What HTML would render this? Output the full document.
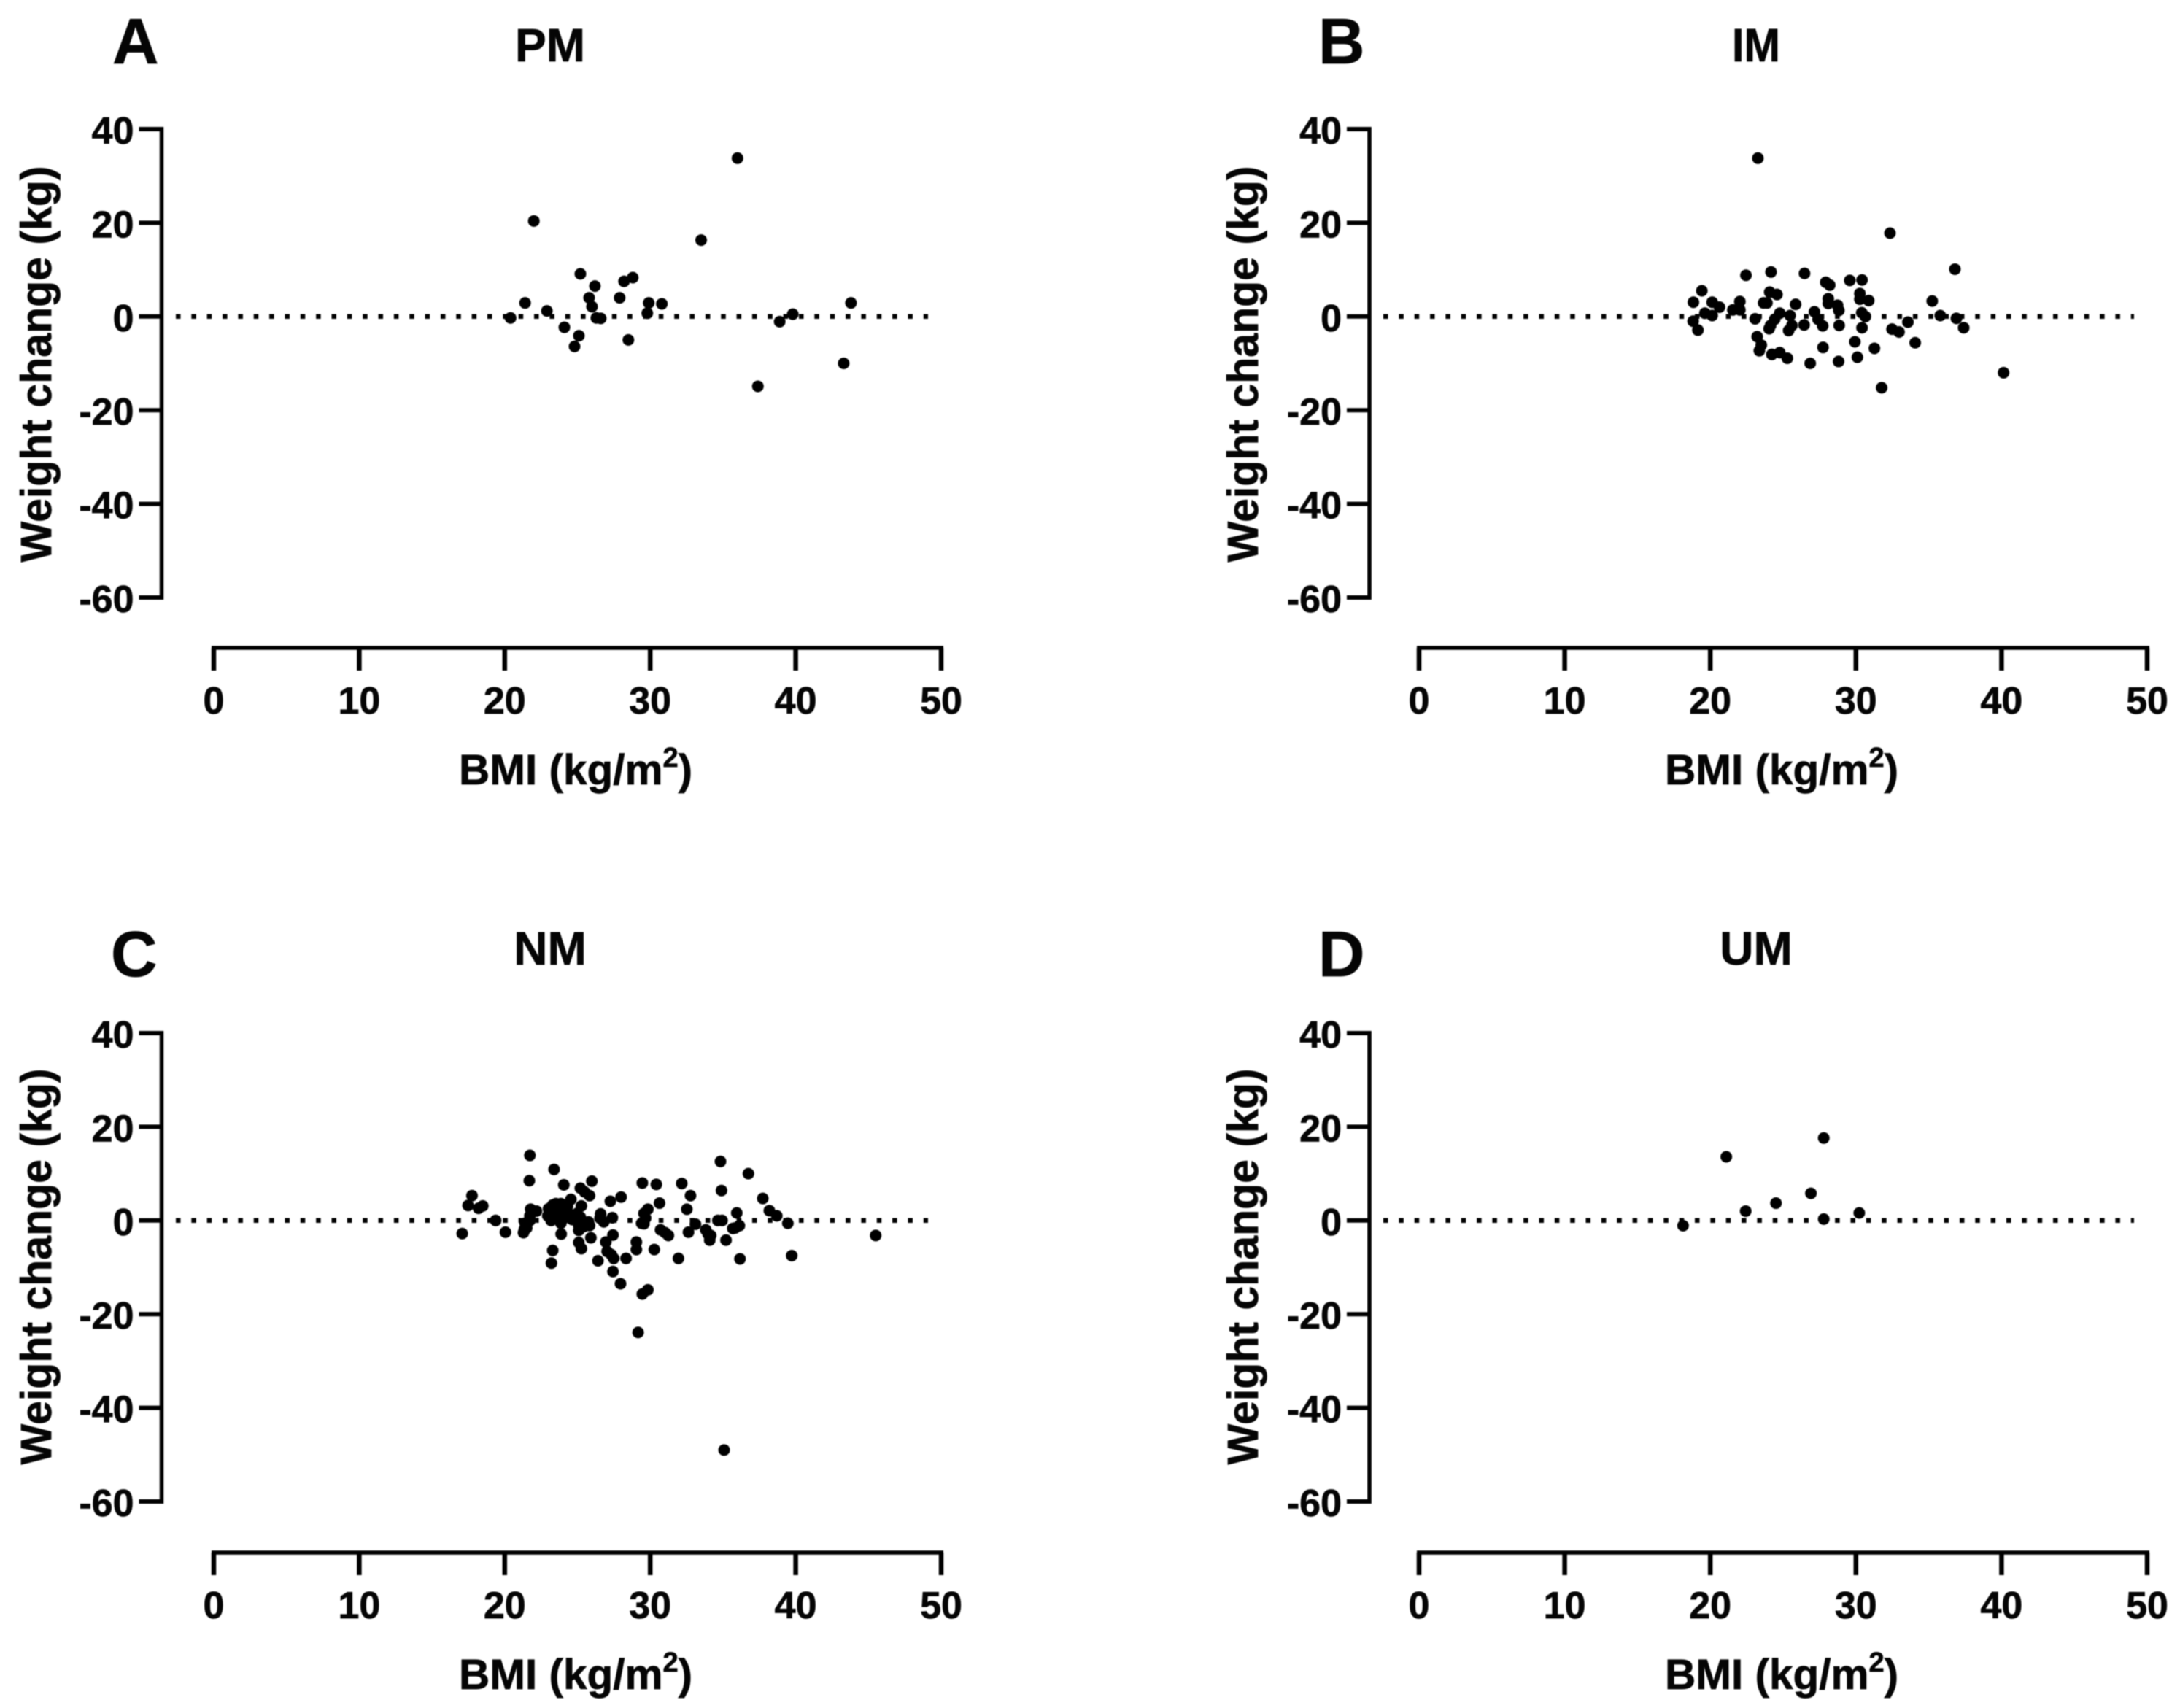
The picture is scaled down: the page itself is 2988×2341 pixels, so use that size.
<!DOCTYPE html>
<html lang="en">
<head>
<meta charset="utf-8">
<title>Weight change vs BMI</title>
<style>
html,body{margin:0;padding:0;background:#fff;width:2988px;height:2341px;overflow:hidden}
svg{display:block}
text{font-family:"Liberation Sans",Arial,sans-serif;font-weight:bold;fill:#050505;stroke:#050505;stroke-width:0.7px}
.soft{filter:blur(0.9px)}
</style>
</head>
<body>
<svg id="chart" xmlns="http://www.w3.org/2000/svg" width="2988" height="2341" viewBox="0 0 2988 2341">
  <rect width="2988" height="2341" fill="#fff"/>
  <g class="soft">
    <g id="panel-a">
      <text x="154" y="87" font-size="88">A</text>
      <text x="754" y="84" font-size="64" text-anchor="middle">PM</text>
      <text transform="translate(70,499) rotate(-90)" font-size="59" text-anchor="middle">Weight change (kg)</text>
      <text x="629" y="1075" font-size="58.5">BMI (kg/m<tspan font-size="38" dy="-24">2</tspan><tspan dy="24">)</tspan></text>
    </g>
    <g id="panel-b">
      <text x="1807" y="87" font-size="88">B</text>
      <text x="2407" y="84" font-size="64" text-anchor="middle" textLength="66" lengthAdjust="spacingAndGlyphs">IM</text>
      <text transform="translate(1724,499) rotate(-90)" font-size="59" text-anchor="middle">Weight change (kg)</text>
      <text x="2282" y="1075" font-size="58.5">BMI (kg/m<tspan font-size="38" dy="-24">2</tspan><tspan dy="24">)</tspan></text>
    </g>
    <g id="panel-c">
      <text x="152" y="1338" font-size="88">C</text>
      <text x="754" y="1322" font-size="64" text-anchor="middle">NM</text>
      <text transform="translate(70,1736) rotate(-90)" font-size="59" text-anchor="middle">Weight change (kg)</text>
      <text x="629" y="2315" font-size="58.5">BMI (kg/m<tspan font-size="38" dy="-24">2</tspan><tspan dy="24">)</tspan></text>
    </g>
    <g id="panel-d">
      <text x="1807" y="1338" font-size="88">D</text>
      <text x="2407" y="1322" font-size="64" text-anchor="middle">UM</text>
      <text transform="translate(1724,1736) rotate(-90)" font-size="59" text-anchor="middle">Weight change (kg)</text>
      <text x="2282" y="2315" font-size="58.5">BMI (kg/m<tspan font-size="38" dy="-24">2</tspan><tspan dy="24">)</tspan></text>
    </g>
  </g>
</svg>
<script>
const xTickValues = [0, 10, 20, 30, 40, 50];
const yTickValues = [40, 20, 0, -20, -40, -60];
const referenceValue = 0;

const bmiA = [20.4,21.4,22,22.9,24.1,24.8,25.1,25.2,25.8,26,26.2,26.3,26.6,27.9,28.2,28.5,28.8,29.9,29.8,30.8,33.5,36,37.4,38.9,39.8,43.3,43.8];
const changeA = [-0.3,2.9,20.4,1.2,-2.3,-6.4,-4.1,9.1,4,2.1,6.5,-0.3,-0.4,4,7.5,-5,8.3,2.9,0.7,2.7,16.3,33.8,-14.9,-1.1,0.5,-10,2.9];

const bmiB = [23.27,32.34,36.8,22.45,24.17,26.47,27.93,28.2,29.58,30.42,19.42,24.08,24.58,18.84,20.13,20.63,19.63,20.13,22.03,21.55,22.03,23.08,23.66,23.89,25.86,28.1,28.1,28.74,28.83,30.27,30.27,30.88,30.4,30.65,35.24,35.79,36.9,37.4,33.57,32.48,32.96,34.07,31.27,29.93,30.1,28.81,26.86,27.74,30.42,28.85,27.72,27.4,27.15,26.44,25.48,25.61,25.38,24.77,24.42,24.14,24.04,18.82,19.15,23.22,23.5,23.37,24.23,24.77,25.29,31.77,40.14];
const changeB = [33.8,17.8,10.1,8.8,9.5,9.2,7.3,6.7,7.7,7.8,5.5,5.2,4.7,3.05,3.05,2,0.7,0.2,3.2,1.4,1.4,-0.5,2.9,2.9,2.6,3.8,2.8,2.4,1.3,4.9,3.7,3.4,0.8,0,3.3,0.2,-0.4,-2.4,-1.2,-2.7,-3.3,-5.6,-6.8,-5.4,-8.7,-9.6,-10,-6.6,-2.4,-1.9,-2,-0.6,1,-1.8,0.2,-1.9,-3,0.7,-0.6,-1.9,-2.6,-1,-2.9,-4.3,-6.1,-7.3,-8.1,-7.7,-8.9,-15.2,-12];

const bmiC = [21.73,21.69,23.39,24.06,25.2,25.49,25.83,25.99,24.55,28,27.26,29.46,30.42,30.64,32.17,32.77,32.52,34.83,34.9,36.75,37.74,38.19,38.7,39.46,35.95,36.13,35.68,34.65,34.94,35.21,34.09,34.16,33.82,33.11,32.63,31.94,36.17,39.73,45.5,31.25,31.02,30.71,30.28,29.05,29.05,29.84,29.57,29.57,29.41,28.34,27.49,26.41,27.44,27.96,29.84,29.46,29.17,27.44,26.95,27.04,27.33,27.4,26.81,26.59,25.92,25.09,25.27,23.88,23.3,23.21,25.83,25.43,25.09,25.2,25.27,24.98,25.2,24.53,24.31,23.86,23.3,23.23,23.19,23.86,24.08,23.64,21.78,22.18,21.73,21.51,21.29,19.38,20.05,17.08,17.75,17.48,18.2,18.49,35.08,23.52,23.01,22.96,23.52,24.31,24.64,24.98,25.76,21.4,21.73,21.35,25.09,26.55,29.68,35.83,33.98];
const changeC = [13.9,8.5,10.9,7.6,6.9,6.1,5.3,8.4,4.5,5,4.1,8,7.7,3.7,7.9,5.3,2.4,12.6,6.4,10,4.7,2.1,1,-0.6,1.6,-1.1,-1.7,0,0,-4.2,-4.2,-3.2,-2,-0.8,-2.5,-8.1,-8.2,-7.5,-3.2,-3.2,-2.6,-2,-6.2,-4.6,-6.2,2.4,1.5,-0.7,-0.6,-8.1,-8.1,-8.6,-10.9,-13.5,-14.8,-15.7,-23.9,-3.1,-4.6,-6.6,-7.3,0.6,-0.3,1.4,-3.7,-4.7,-6,-2.9,-6.4,-9.1,-1.1,-1.3,-2.1,-0.6,3.1,1.5,0.7,1.2,3,3.6,3.3,2,0,-0.6,0.5,2.5,2.4,2,0,-1.6,-2.6,0,-2.5,-2.8,5.3,3.2,2.6,3.1,-49,3.6,2.5,1,0.7,1.8,0.2,-0.2,-0.3,-0.6,1,-1.9,-1.1,0.5,0.5,-1.6,-2.9];

const bmiD = [18.13,21.1,22.43,24.51,26.91,27.79,27.79,30.23];
const changeD = [-1.1,13.6,2,3.7,5.8,17.6,0.3,1.6];

const panelLayouts = [
  {id:'a', bmi:bmiA, change:changeA, xLeft:293, xRight:1290, yTop:177, yBottom:819, xAxisY:888, yAxisX:221.5, refStart:241, refEnd:1272},
  {id:'b', bmi:bmiB, change:changeB, xLeft:1945, xRight:2943, yTop:177, yBottom:819, xAxisY:888, yAxisX:1877, refStart:1896, refEnd:2925},
  {id:'c', bmi:bmiC, change:changeC, xLeft:293, xRight:1290, yTop:1416, yBottom:2058, xAxisY:2128, yAxisX:221.5, refStart:241, refEnd:1272},
  {id:'d', bmi:bmiD, change:changeD, xLeft:1945, xRight:2943, yTop:1416, yBottom:2058, xAxisY:2128, yAxisX:1877, refStart:1896, refEnd:2925}
];

const SVG_NS = 'http://www.w3.org/2000/svg';

function add(parent, tag, attrs) {
  const el = document.createElementNS(SVG_NS, tag);
  for (const key in attrs) el.setAttribute(key, attrs[key]);
  parent.appendChild(el);
  return el;
}

function xScale(p, value) {
  const min = xTickValues[0], max = xTickValues[xTickValues.length - 1];
  return p.xLeft + (value - min) / (max - min) * (p.xRight - p.xLeft);
}

function yScale(p, value) {
  const max = yTickValues[0], min = yTickValues[yTickValues.length - 1];
  return p.yTop + (max - value) / (max - min) * (p.yBottom - p.yTop);
}

panelLayouts.forEach(function (p) {
  const root = document.getElementById('panel-' + p.id);

  const refY = yScale(p, referenceValue);
  const refLine = add(root, 'line', {x1:p.refStart, x2:p.refEnd, y1:refY, y2:refY, stroke:'#000', 'stroke-width':6.5, 'stroke-dasharray':'6.5 14.85'});
  
  

  const yAxis = add(root, 'line', {x1:p.yAxisX, x2:p.yAxisX, y1:yScale(p, yTickValues[0]) - 3, y2:yScale(p, yTickValues[yTickValues.length - 1]) + 3, stroke:'#000', 'stroke-width':5.5});
  
  

  yTickValues.forEach(function (v) {
    const y = yScale(p, v);
    const tick = add(root, 'line', {x1:p.yAxisX - 31, x2:p.yAxisX, y1:y, y2:y, stroke:'#000', 'stroke-width':6});
    
    
    const label = add(root, 'text', {x:p.yAxisX - 38, y:y + 20, 'font-size':52, 'text-anchor':'end'});
    label.textContent = String(v);
    
    
  });

  const xAxis = add(root, 'line', {x1:xScale(p, xTickValues[0]) - 3, x2:xScale(p, xTickValues[xTickValues.length - 1]) + 3, y1:p.xAxisY, y2:p.xAxisY, stroke:'#000', 'stroke-width':5.5});
  
  

  xTickValues.forEach(function (v) {
    const x = xScale(p, v);
    const tick = add(root, 'line', {x1:x, x2:x, y1:p.xAxisY, y2:p.xAxisY + 31, stroke:'#000', 'stroke-width':6.5});
    
    
    const label = add(root, 'text', {x:x, y:p.xAxisY + 90, 'font-size':52, 'text-anchor':'middle'});
    label.textContent = String(v);
    
    
  });

  p.bmi.forEach(function (b, i) {
    const dot = add(root, 'circle', {cx:xScale(p, b), cy:yScale(p, p.change[i]), r:8, fill:'#000'});
    
    
  });
});
</script>
</body>
</html>
